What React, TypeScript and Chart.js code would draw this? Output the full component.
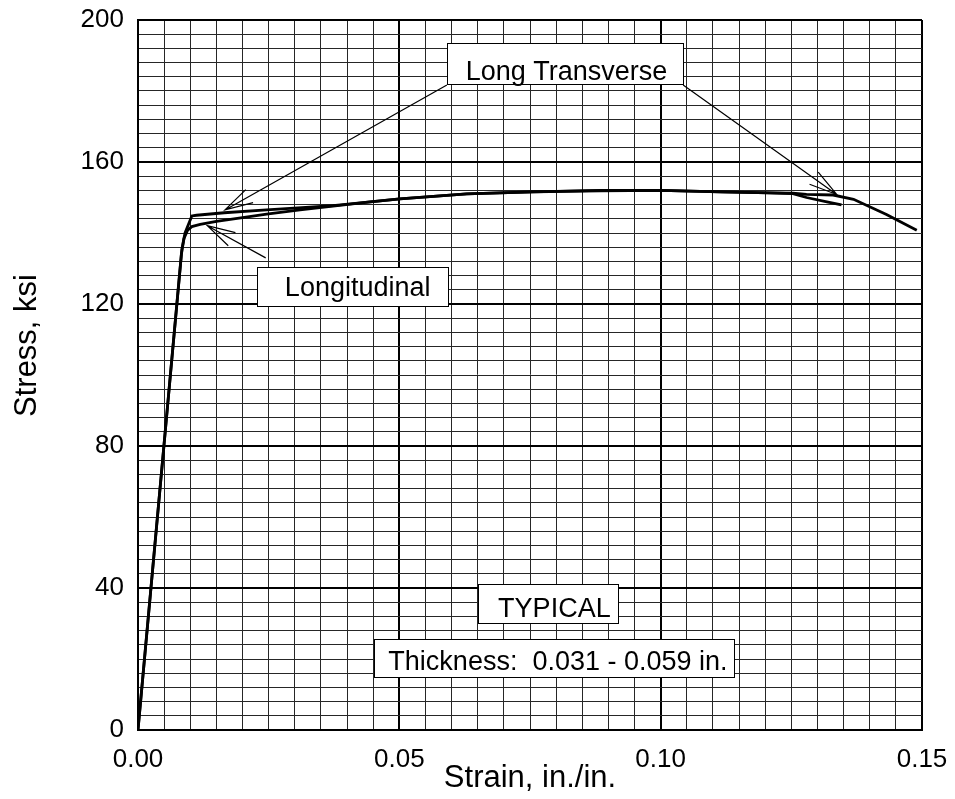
import React, { useEffect, useRef } from 'react';
import { Chart, registerables } from 'chart.js';

Chart.register(...registerables);

// ---- Data ----
const longitudinalStrain = [0, 0.0083, 0.0088, 0.0095, 0.0103, 0.0119, 0.0150, 0.0200, 0.0246, 0.0310, 0.0373, 0.0440, 0.0501, 0.0629, 0.0756, 0.0884, 0.1000, 0.1114, 0.1209, 0.1253, 0.1279, 0.1318, 0.1346];
const longitudinalStress = [0, 134.0, 138.5, 140.8, 141.8, 142.4, 143.3, 144.3, 145.3, 146.5, 147.6, 148.7, 149.6, 151.0, 151.6, 151.9, 152.0, 151.6, 151.3, 151.1, 150.0, 148.8, 147.9];

const transverseStrain = [0, 0.0084, 0.0090, 0.0103, 0.0112, 0.0165, 0.0246, 0.0373, 0.0501, 0.0629, 0.0756, 0.0884, 0.1000, 0.1114, 0.1209, 0.1253, 0.1279, 0.1330, 0.1369, 0.1432, 0.1490];
const transverseStress = [0, 135.5, 140.0, 144.8, 145.0, 145.7, 146.5, 147.7, 149.6, 151.0, 151.6, 152.0, 152.0, 151.6, 151.3, 151.2, 150.9, 150.7, 149.5, 145.2, 140.8];

const xTickValues = [0, 0.05, 0.1, 0.15];
const xTickLabels = ['0.00', '0.05', '0.10', '0.15'];
const yTickValues = [0, 40, 80, 120, 160, 200];
const yTickLabels = ['0', '40', '80', '120', '160', '200'];

const xAxisTitle = 'Strain, in./in.';
const yAxisTitle = 'Stress, ksi';

const calloutTexts = ['Long Transverse', 'Longitudinal', 'TYPICAL', 'Thickness:  0.031 - 0.059 in.'];

// ---- Annotation geometry (data coordinates) ----
const callouts = [
  { text: calloutTexts[0], box: [0.0591, 193.4, 0.1043, 182.0], textAt: [0.0627, 183.1] },
  { text: calloutTexts[1], box: [0.0227, 130.5, 0.0593, 119.4], textAt: [0.0281, 122.3] },
  { text: calloutTexts[2], box: [0.0650, 41.0, 0.0918, 30.2], textAt: [0.0689, 31.9] },
  { text: calloutTexts[3], box: [0.0452, 25.5, 0.1141, 15.0], textAt: [0.0479, 16.9] },
];

const arrows = [
  { from: [0.0591, 181.7], to: [0.01665, 146.5] },
  { from: [0.1043, 181.7], to: [0.13368, 150.85] },
  { from: [0.02443, 133.0], to: [0.01326, 142.06] },
];

const FONT = '"Liberation Sans", Arial, Helvetica, sans-serif';

function onStep(v: number, step: number) {
  const r = v / step;
  return Math.abs(r - Math.round(r)) < 1e-6;
}

const overlayPlugin = {
  id: 'overlay',
  afterDatasetsDraw(chart: any) {
    const { ctx, scales } = chart;
    const xs = scales.x;
    const ys = scales.y;
    const px = (v: number) => xs.getPixelForValue(v);
    const py = (v: number) => ys.getPixelForValue(v);
    ctx.save();
    ctx.strokeStyle = '#000';
    ctx.lineWidth = 1.2;
    for (const a of arrows) {
      const x0 = px(a.from[0]);
      const y0 = py(a.from[1]);
      const x1 = px(a.to[0]);
      const y1 = py(a.to[1]);
      const ang = Math.atan2(y0 - y1, x0 - x1);
      const L = 29;
      const h = 0.26;
      ctx.beginPath();
      ctx.moveTo(x0, y0);
      ctx.lineTo(x1, y1);
      ctx.moveTo(x1 + L * Math.cos(ang + h), y1 + L * Math.sin(ang + h));
      ctx.lineTo(x1, y1);
      ctx.lineTo(x1 + L * Math.cos(ang - h), y1 + L * Math.sin(ang - h));
      ctx.stroke();
    }
    for (const c of callouts) {
      const l = Math.round(px(c.box[0]));
      const t = Math.round(py(c.box[1]));
      const r = Math.round(px(c.box[2]));
      const b = Math.round(py(c.box[3]));
      ctx.fillStyle = '#fff';
      ctx.fillRect(l, t, r - l, b - t);
      ctx.strokeStyle = '#000';
      ctx.lineWidth = 1;
      ctx.strokeRect(l + 0.5, t + 0.5, r - l, b - t);
      ctx.fillStyle = '#000';
      ctx.font = `27px ${FONT}`;
      ctx.textAlign = 'left';
      ctx.textBaseline = 'alphabetic';
      ctx.fillText(c.text, px(c.textAt[0]), py(c.textAt[1]));
    }
    ctx.restore();
  },
  afterDraw(chart: any) {
    const { ctx, chartArea } = chart;
    ctx.save();
    ctx.fillStyle = '#000';
    ctx.font = `31px ${FONT}`;
    ctx.textAlign = 'center';
    ctx.textBaseline = 'alphabetic';
    ctx.fillText(xAxisTitle, (chartArea.left + chartArea.right) / 2, chartArea.bottom + 57);
    ctx.translate(36, (chartArea.top + chartArea.bottom) / 2 - 29.5);
    ctx.rotate(-Math.PI / 2);
    ctx.fillText(yAxisTitle, 0, 0);
    ctx.restore();
  },
};

export default function App() {
  const ref = useRef<HTMLCanvasElement>(null);

  useEffect(() => {
    const canvas = ref.current;
    if (!canvas) return;
    const mk = (xsArr: number[], ysArr: number[]) => xsArr.map((x, i) => ({ x, y: ysArr[i] }));
    const chart = new Chart(canvas, {
      type: 'scatter',
      data: {
        datasets: [
          {
            label: 'Longitudinal',
            data: mk(longitudinalStrain, longitudinalStress),
            showLine: true,
            borderColor: '#000',
            backgroundColor: '#000',
            borderWidth: 2.8,
            pointRadius: 0,
            tension: 0,
          },
          {
            label: 'Long Transverse',
            data: mk(transverseStrain, transverseStress),
            showLine: true,
            borderColor: '#000',
            backgroundColor: '#000',
            borderWidth: 2.8,
            pointRadius: 0,
            tension: 0,
          },
        ],
      },
      options: {
        animation: false,
        responsive: false,
        maintainAspectRatio: false,
        layout: { padding: { left: 0, top: 20, right: 33, bottom: 0 } },
        plugins: {
          legend: { display: false },
          tooltip: { enabled: false },
          title: { display: false },
        },
        scales: {
          x: {
            type: 'linear',
            min: 0,
            max: 0.15,
            afterFit: (s: any) => {
              s.height = 69;
              s.paddingLeft = 0;
              s.paddingRight = 0;
            },
            border: { display: true, color: '#000', width: 2 },
            grid: {
              drawTicks: false,
              color: (c: any) => (onStep(c.tick.value, 0.05) ? '#000' : '#262626'),
              lineWidth: (c: any) => (onStep(c.tick.value, 0.05) ? 2 : 1),
            },
            ticks: {
              stepSize: 0.005,
              maxTicksLimit: 100,
              autoSkip: false,
              maxRotation: 0,
              minRotation: 0,
              padding: 14,
              color: '#000',
              font: { family: FONT, size: 26 },
              callback: (v: any) => {
                const i = xTickValues.findIndex((t) => Math.abs(t - Number(v)) < 1e-9);
                return i >= 0 ? xTickLabels[i] : '';
              },
            },
          },
          y: {
            type: 'linear',
            min: 0,
            max: 200,
            afterFit: (s: any) => {
              s.width = 138;
              s.paddingTop = 0;
              s.paddingBottom = 0;
            },
            border: { display: true, color: '#000', width: 2 },
            grid: {
              drawTicks: false,
              color: (c: any) => (onStep(c.tick.value, 40) ? '#000' : '#262626'),
              lineWidth: (c: any) => (onStep(c.tick.value, 40) ? 2 : 1),
            },
            ticks: {
              stepSize: 4,
              maxTicksLimit: 100,
              autoSkip: false,
              padding: 14,
              color: '#000',
              font: { family: FONT, size: 26 },
              callback: (v: any) => {
                const i = yTickValues.findIndex((t) => Math.abs(t - Number(v)) < 1e-9);
                return i >= 0 ? yTickLabels[i] : '';
              },
            },
          },
        },
      },
      plugins: [overlayPlugin],
    });
    return () => chart.destroy();
  }, []);

  return (
    <div style={{ position: 'fixed', left: 0, top: 0, width: 955, height: 799, background: '#fff' }}>
      <canvas ref={ref} width={955} height={799} style={{ display: 'block' }} />
    </div>
  );
}
